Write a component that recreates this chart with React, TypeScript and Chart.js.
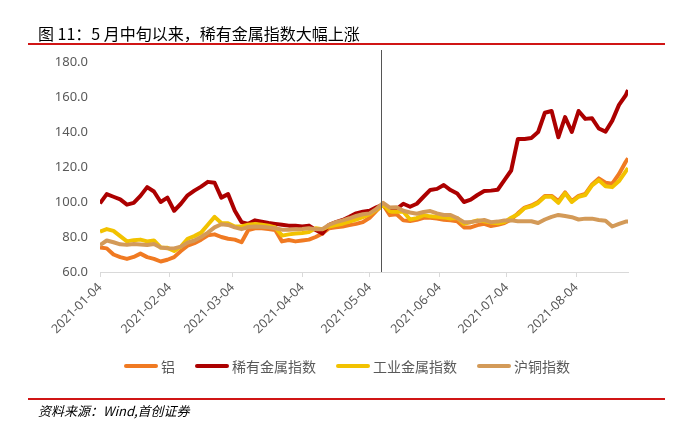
import React, { useEffect, useRef } from 'react';
import { Chart, registerables } from 'chart.js';

Chart.register(...registerables);

const startDate = '2021-01-04';

const dates = [
  '2021-01-04', '2021-01-07', '2021-01-10', '2021-01-13', '2021-01-16', '2021-01-19', '2021-01-22', '2021-01-25',
  '2021-01-28', '2021-01-31', '2021-02-03', '2021-02-06', '2021-02-09', '2021-02-12', '2021-02-15', '2021-02-18',
  '2021-02-21', '2021-02-24', '2021-02-27', '2021-03-02', '2021-03-05', '2021-03-08', '2021-03-11', '2021-03-14',
  '2021-03-17', '2021-03-20', '2021-03-23', '2021-03-26', '2021-03-29', '2021-04-01', '2021-04-04', '2021-04-07',
  '2021-04-10', '2021-04-13', '2021-04-16', '2021-04-19', '2021-04-22', '2021-04-25', '2021-04-28', '2021-05-01',
  '2021-05-04', '2021-05-07', '2021-05-10', '2021-05-13', '2021-05-16', '2021-05-19', '2021-05-22', '2021-05-25',
  '2021-05-28', '2021-05-31', '2021-06-03', '2021-06-06', '2021-06-09', '2021-06-12', '2021-06-15', '2021-06-18',
  '2021-06-21', '2021-06-24', '2021-06-27', '2021-06-30', '2021-07-03', '2021-07-06', '2021-07-09', '2021-07-12',
  '2021-07-15', '2021-07-18', '2021-07-21', '2021-07-24', '2021-07-27', '2021-07-30', '2021-08-02', '2021-08-05',
  '2021-08-08', '2021-08-11', '2021-08-14', '2021-08-17', '2021-08-20', '2021-08-23', '2021-08-26', '2021-08-27',
];

// 铝
const aluminium = [
  74, 73.5, 70, 68.5, 67.5, 68.6, 70.5, 68.5,
  67.5, 66, 67, 68.5, 72, 75, 76.5, 78.5,
  81, 81.5, 80, 79, 78.5, 77, 84, 85,
  85, 84.5, 84, 77.5, 78.3, 77.5, 78, 78.5,
  80, 82, 85, 85.5, 86, 86.8, 87.5, 88.5,
  91, 95, 98.5, 92.5, 93, 89.5, 89.2, 89.8,
  91, 91, 90.5, 89.8, 89.5, 89, 85.5, 85.5,
  86.8, 87.5, 86.3, 87, 88, 90, 93.5, 96.8,
  98, 100, 103.5, 103.5, 100.5, 105.5, 100.5, 103.5,
  104.6, 110, 113.5, 111, 110.5, 116, 123, 125,
];

// 稀有金属指数
const rareMetals = [
  99.2, 104.5, 103, 101.5, 98.5, 99.5, 103.5, 108.5,
  106, 100, 102.5, 95, 99, 103.8, 106.5, 108.8,
  111.5, 111, 102.5, 104.5, 95, 88.5, 87.5, 89.5,
  88.8, 88, 87.5, 87, 86.5, 86.5, 86, 86.5,
  84, 82, 87, 88.5, 89.7, 91.5, 93.5, 94.5,
  95, 97, 98.5, 94.5, 96, 99, 97.3, 99,
  103, 106.9, 107.5, 109.7, 106.8, 104.8, 100, 101.3,
  104, 106.3, 106.5, 107, 112.5, 118, 136, 136,
  136.6, 140, 151, 152, 137, 148.5, 140, 152,
  147.5, 147.8, 142, 140.2, 146.5, 155.5, 161, 164,
];

// 工业金属指数
const industrialMetals = [
  83, 84.5, 83.5, 80.5, 77.5, 78.2, 78.5, 77.5,
  78, 74, 73.8, 72, 74.5, 79, 80.5, 82.5,
  87, 91.5, 88, 87.8, 86, 86, 87, 87.5,
  87, 86.5, 85.5, 80.8, 81.5, 82, 82.3, 82.8,
  85, 84.5, 86, 86.8, 87.6, 88.8, 90, 91.3,
  93, 95.5, 98.5, 94.5, 94.5, 94.5, 90, 90.8,
  92.5, 91.8, 91.5, 91.2, 90.5, 90.8, 87.5, 88.5,
  89.5, 89, 88.3, 87.8, 88.5, 91, 93, 96.5,
  97.5, 99.5, 103, 103, 99.5, 105, 100, 103,
  104, 109.5, 112.5, 109, 108.5, 112, 117.5, 119.4,
];

// 沪铜指数
const copper = [
  75.4, 78, 77, 75.8, 75.5, 76, 75.7, 75.4,
  76, 74, 73.6, 73.5, 74.5, 76.8, 78, 80,
  82.5, 85.5, 87.3, 86.9, 85.5, 84.5, 85.7, 86,
  85.9, 85.5, 85, 84.2, 84.2, 84.4, 84.6, 85,
  84.5, 84.5, 87, 88.5, 89.5, 90.7, 92, 93,
  93.5, 96, 99.5, 96.8, 97, 95, 94, 93.3,
  94.3, 94.8, 93.5, 92.6, 92.6, 90.8, 88.5, 88.5,
  89.2, 89.7, 88.5, 88.8, 89.5, 89.5, 89, 89,
  89, 88, 90, 91.5, 92.6, 92, 91.3, 90,
  90.5, 90.5, 89.7, 89.3, 86, 87.5, 88.8, 88.8,
];

const tickDates = [
  '2021-01-04', '2021-02-04', '2021-03-04', '2021-04-04',
  '2021-05-04', '2021-06-04', '2021-07-04', '2021-08-04',
];
const markerDate = '2021-05-09';
const yMin = 60;
const yMax = 180;
const yStep = 20;

const seriesNames = ['铝', '稀有金属指数', '工业金属指数', '沪铜指数'];
const seriesValues = [aluminium, rareMetals, industrialMetals, copper];
const seriesColors = ['#F07A22', '#AC0000', '#F2C200', '#D39A58'];

const titleText = '图 11：5 月中旬以来，稀有金属指数大幅上涨';
const sourceText = '资料来源：Wind,首创证券';

const dayOf = (d: string) =>
  Math.round((Date.parse(d) - Date.parse(startDate)) / 86400000);

const W = 673;
const H = 431;
const FONT = '"Noto Sans", "Liberation Sans", sans-serif';
const CJK = '"Noto Sans CJK SC", "Noto Sans", sans-serif';

export default function App() {
  const canvasRef = useRef<HTMLCanvasElement | null>(null);

  useEffect(() => {
    const canvas = canvasRef.current;
    if (!canvas) return;
    const xs = dates.map(dayOf);
    const markerPlugin = {
      id: 'marker',
      afterDatasetsDraw(chart: any) {
        const { ctx, chartArea, scales } = chart;
        const x = Math.round(scales.x.getPixelForValue(dayOf(markerDate))) + 0.5;
        ctx.save();
        ctx.strokeStyle = '#555555';
        ctx.lineWidth = 1;
        ctx.beginPath();
        ctx.moveTo(x, chartArea.top - 12);
        ctx.lineTo(x, chartArea.bottom);
        ctx.stroke();
        ctx.restore();
      },
    };
    const drawOrder = [3, 2, 1, 0];
    const chart = new Chart(canvas, {
      type: 'line',
      data: {
        datasets: seriesNames.map((name, i) => ({
          label: name,
          data: seriesValues[i].map((v, j) => ({ x: xs[j], y: v })),
          borderColor: seriesColors[i],
          backgroundColor: seriesColors[i],
          borderWidth: 4,
          pointRadius: 0,
          tension: 0,
          fill: false,
          order: drawOrder[i],
          borderJoinStyle: 'round' as const,
        })),
      },
      options: {
        responsive: false,
        animation: false,
        devicePixelRatio: 1,
        layout: { padding: { top: 62, right: 45, bottom: 0, left: 0 } },
        plugins: {
          legend: { display: false },
          title: { display: false },
          tooltip: { enabled: false },
        },
        scales: {
          x: {
            type: 'linear',
            min: 0,
            max: dayOf(dates[dates.length - 1]),
            afterBuildTicks: (scale: any) => {
              scale.ticks = tickDates.map((d) => ({ value: dayOf(d) }));
            },
            afterFit: (scale: any) => {
              scale.height = 159;
            },
            ticks: {
              autoSkip: false,
              minRotation: 45,
              maxRotation: 45,
              padding: 3,
              color: '#595959',
              font: { family: FONT, size: 12.5 },
              callback: (_v: any, i: number) => tickDates[i],
            },
            grid: {
              display: true,
              drawOnChartArea: false,
              drawTicks: true,
              tickLength: 5,
              color: '#D9D9D9',
            },
            border: { display: true, color: '#D9D9D9', width: 1 },
          },
          y: {
            type: 'linear',
            min: yMin,
            max: yMax,
            afterFit: (scale: any) => {
              scale.width = 100;
            },
            ticks: {
              stepSize: yStep,
              padding: 12,
              color: '#595959',
              font: { family: FONT, size: 13 },
              callback: (v: any) => Number(v).toFixed(1),
            },
            grid: { display: false, drawTicks: false },
            border: { display: false },
          },
        },
      },
      plugins: [markerPlugin],
    } as any);
    return () => chart.destroy();
  }, []);

  return (
    <div
      style={{
        position: 'fixed',
        left: 0,
        top: 0,
        width: W,
        height: H,
        background: '#ffffff',
        overflow: 'hidden',
      }}
    >
      <canvas
        ref={canvasRef}
        width={W}
        height={H}
        style={{ position: 'absolute', left: 0, top: 0, width: W, height: H }}
      />
      <div
        style={{
          position: 'absolute',
          left: 38,
          top: 24,
          fontFamily: CJK,
          fontSize: 16,
          lineHeight: '18px',
          color: '#000',
          whiteSpace: 'nowrap',
        }}
      >
        {titleText}
      </div>
      <div
        style={{
          position: 'absolute',
          left: 28,
          top: 43,
          width: 637,
          height: 0,
          borderTop: '2px solid #D01515',
        }}
      />
      <div
        style={{
          position: 'absolute',
          left: 124,
          top: 357,
          display: 'flex',
          alignItems: 'center',
          fontFamily: CJK,
          fontSize: 14,
          lineHeight: '18px',
          color: '#595959',
          whiteSpace: 'nowrap',
        }}
      >
        {seriesNames.map((name, i) => (
          <div
            key={name}
            style={{ display: 'flex', alignItems: 'center', marginRight: i < seriesNames.length - 1 ? 20 : 0 }}
          >
            <div
              style={{
                width: 34,
                height: 4,
                borderRadius: 2,
                background: seriesColors[i],
                marginRight: 3,
              }}
            />
            <span>{name}</span>
          </div>
        ))}
      </div>
      <div
        style={{
          position: 'absolute',
          left: 28,
          top: 398,
          width: 637,
          height: 0,
          borderTop: '2px solid #D01515',
        }}
      />
      <div
        style={{
          position: 'absolute',
          left: 38,
          top: 403,
          fontFamily: CJK,
          fontSize: 13,
          fontStyle: 'italic',
          lineHeight: '16px',
          color: '#000',
          whiteSpace: 'nowrap',
        }}
      >
        {sourceText}
      </div>
    </div>
  );
}
